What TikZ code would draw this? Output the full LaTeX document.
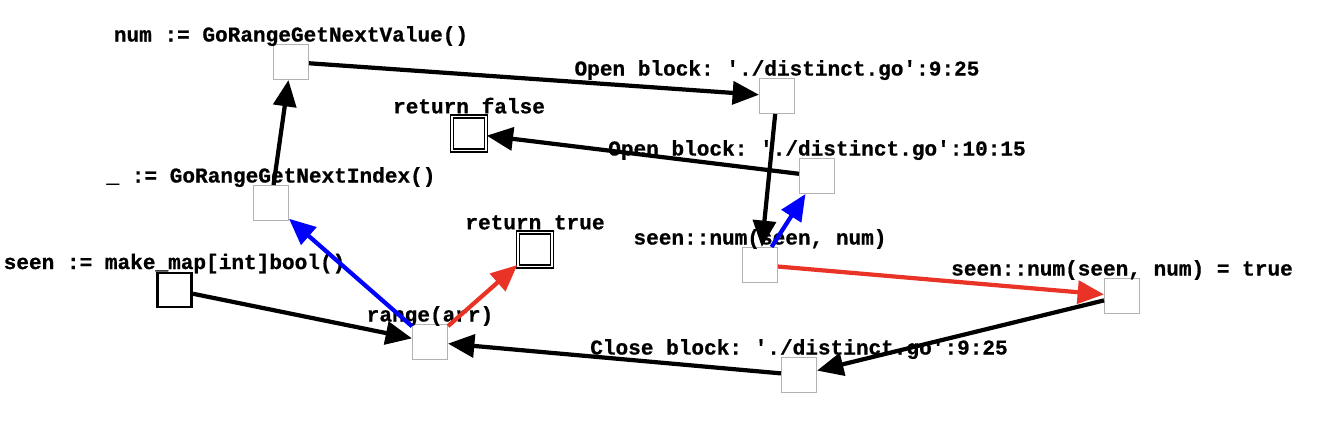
\documentclass[tikz,border=0pt]{standalone}
\usepackage{fontspec}
\setmonofont[BoldFeatures={FakeBold=0.8}]{Liberation Mono}
\usepackage{tikz}
\usetikzlibrary{arrows.meta}

\definecolor{edgered}{RGB}{232,51,38}
\definecolor{boxgray}{RGB}{178,178,178}

\tikzset{
  code/.style={font=\ttfamily\bfseries\fontsize{12}{14}\selectfont, inner sep=0pt},
  stmt/.style={draw=boxgray, line width=0.6pt, minimum size=0.7cm, inner sep=0pt},
  entry/.style={draw=black, line width=1.7pt, minimum size=0.68cm, inner sep=0pt},
  ret/.style={draw=black, double=white, double distance=1pt, line width=0.8pt, minimum size=0.68cm, inner sep=0pt},
  flow/.style={-{Triangle[length=15pt,width=13pt]}, line width=2.4pt},
}

\begin{document}
\begin{tikzpicture}[x=0.02cm, y=-0.02cm,
  every label/.style={code, anchor=base, label distance=1.4pt}]
  \useasboundingbox (0,0) rectangle (1342,446);

  \node[entry, label=90:{seen := make\_map[int]bool()}] (make) at (174.5,290) {};
  \node[stmt, label=90:{range(arr)}] (range) at (430,342) {};
  \node[stmt, label=90:{\_ := GoRangeGetNextIndex()}] (index) at (271,203) {};
  \node[stmt, label=90:{num := GoRangeGetNextValue()}] (value) at (291,62) {};
  \node[stmt, label=90:{Open block: './distinct.go':9:25}] (open9) at (777,96) {};
  \node[stmt, label=90:{Open block: './distinct.go':10:15}] (open10) at (817,176) {};
  \node[stmt, label=90:{seen::num(seen, num)}] (lookup) at (760,265) {};
  \node[stmt, label=90:{seen::num(seen, num) = true}] (store) at (1122,296) {};
  \node[stmt, label=90:{Close block: './distinct.go':9:25}] (close9) at (799,375) {};
  \node[ret, label=90:{return\_false}] (retfalse) at (469,133.5) {};
  \node[ret, label=90:{return\_true}] (rettrue) at (535,249.5) {};

  \draw[flow] (make) -- (range);
  \draw[flow, blue] (range) -- (index);
  \draw[flow, edgered] (range) -- (rettrue);
  \draw[flow] (index) -- (value);
  \draw[flow] (value) -- (open9);
  \draw[flow] (open9) -- (lookup);
  \draw[flow, blue] (lookup) -- (open10);
  \draw[flow] (open10) -- (retfalse);
  \draw[flow, edgered] (lookup) -- (store);
  \draw[flow] (store) -- (close9);
  \draw[flow] (close9) -- (range);
\end{tikzpicture}
\end{document}
